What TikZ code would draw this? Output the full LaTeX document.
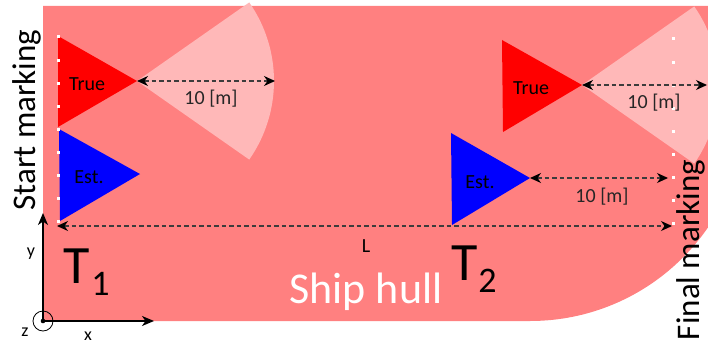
\documentclass[tikz,border=0pt]{standalone}
\usepackage{fontspec}
\setmainfont{Carlito}
\usetikzlibrary{arrows.meta}
\definecolor{hull}{RGB}{255,128,128}
\definecolor{fov}{RGB}{255,184,184}
\definecolor{truered}{RGB}{255,0,0}
\definecolor{estblue}{RGB}{0,0,255}
\definecolor{dimgray}{RGB}{60,60,60}
\tikzset{
  dimarrow/.style={draw=dimgray, line width=1.2pt, dash pattern=on 4.5pt off 3pt,
    {Stealth[length=11pt,width=10pt,inset=3.5pt,fill=black,black]}-{Stealth[length=11pt,width=10pt,inset=3.5pt,fill=black,black]}},
  axisarrow/.style={draw=black, line width=1.2pt, -{Stealth[length=12pt,width=10pt,inset=3.5pt]}},
  lbl/.style={inner sep=0pt, font=\fontsize{20}{20}\selectfont, text=black},
  dimlbl/.style={inner sep=0pt, font=\fontsize{20}{20}\selectfont, text=black!85},
  marktext/.style={inner sep=0pt, rotate=90, anchor=base, font=\fontsize{33}{33}\selectfont},
  bigT/.style={inner sep=0pt, anchor=base, font=\fontsize{54}{54}\selectfont},
  subT/.style={inner sep=0pt, anchor=base, font=\fontsize{36}{36}\selectfont},
  axlbl/.style={inner sep=0pt, font=\fontsize{18}{18}\selectfont},
  markdot/.style={fill=white},
}
\begin{document}
\begin{tikzpicture}[x=1pt,y=-1pt]
\useasboundingbox (0,0) rectangle (708,345);
\clip (0,0) rectangle (708,345);
% hull
\fill[hull] (43,6) -- (746,6) -- (746,105)
  arc[start angle=0,end angle=90,radius=216] -- (43,321) -- cycle;
% fields of view
\fill[fov] (137,81) -- ++(-35:137) arc[start angle=-35,end angle=35,radius=137] -- cycle;
\fill[fov] (582,85) -- ++(-35:137) arc[start angle=-35,end angle=35,radius=137] -- cycle;
% triangles
\fill[truered] (58,36) -- (58,127) -- (137,81) -- cycle;
\fill[estblue] (59,129) -- (60,221) -- (140,174) -- cycle;
\fill[truered] (502,40) -- (503,132) -- (582,85) -- cycle;
\fill[estblue] (451,133) -- (452,225) -- (530,178) -- cycle;
% marking dots
\foreach \k in {0,...,8}{
  \fill[markdot] (56.5,{35.5+23*\k}) rectangle ++(3,3);
  \fill[markdot] (671.5,{37.5+23*\k}) rectangle ++(3,3);
}
% coordinates
\coordinate (tipT1) at (137,81);
\coordinate (endT1) at (275,81);
\coordinate (tipT2) at (582,85);
\coordinate (endT2) at (707,85);
\coordinate (tipE2) at (530,178);
\coordinate (endE2) at (668,178);
\coordinate (Lstart) at (57,226);
\coordinate (Lend) at (672,226);
\coordinate (origin) at (43,321);
\coordinate (yend) at (43,213);
\coordinate (xend) at (154,321);
% dimension arrows
\draw[dimarrow] (tipT1) -- (endT1);
\draw[dimarrow] (tipT2) -- (endT2);
\draw[dimarrow] (tipE2) -- (endE2);
\draw[dimarrow] (Lstart) -- (Lend);
% axes
\draw[axisarrow] (origin) -- (yend);
\draw[axisarrow] (origin) -- (xend);
\draw[line width=0.8pt] (origin) circle[radius=10];
\fill (origin) circle[radius=2.3];
% labels
\node[lbl] (true1) at (87,84) {True};
\node[lbl] (est1) at (89,177) {Est.};
\node[lbl] (true2) at (531,88) {True};
\node[lbl] (est2) at (480,182) {Est.};
\node[dimlbl] (d1) at (211,99) {10 [m]};
\node[dimlbl] (d2) at (654,103) {10 [m]};
\node[dimlbl] (d3) at (602,197) {10 [m]};
\node[inner sep=0pt, anchor=base, font=\fontsize{20}{20}\selectfont] (Llbl) at (366,252) {L};
\node[inner sep=0pt, anchor=base, text=white, font=\fontsize{44}{44}\selectfont] (hullname) at (366,303) {Ship hull};
\node[bigT] (T1) at (76.5,283) {T};
\node[subT] (T1s) at (100.5,295) {1};
\node[bigT] (T2) at (464.5,280) {T};
\node[subT] (T2s) at (487.5,292) {2};
\node[marktext] (startmark) at (35,120) {Start marking};
\node[marktext] (finalmark) at (699,250) {Final marking};
\node[axlbl] (ylbl) at (31,254) {y};
\node[axlbl] (xlbl) at (88,336) {x};
\node[axlbl] (zlbl) at (25,332) {z};
\end{tikzpicture}
\end{document}
